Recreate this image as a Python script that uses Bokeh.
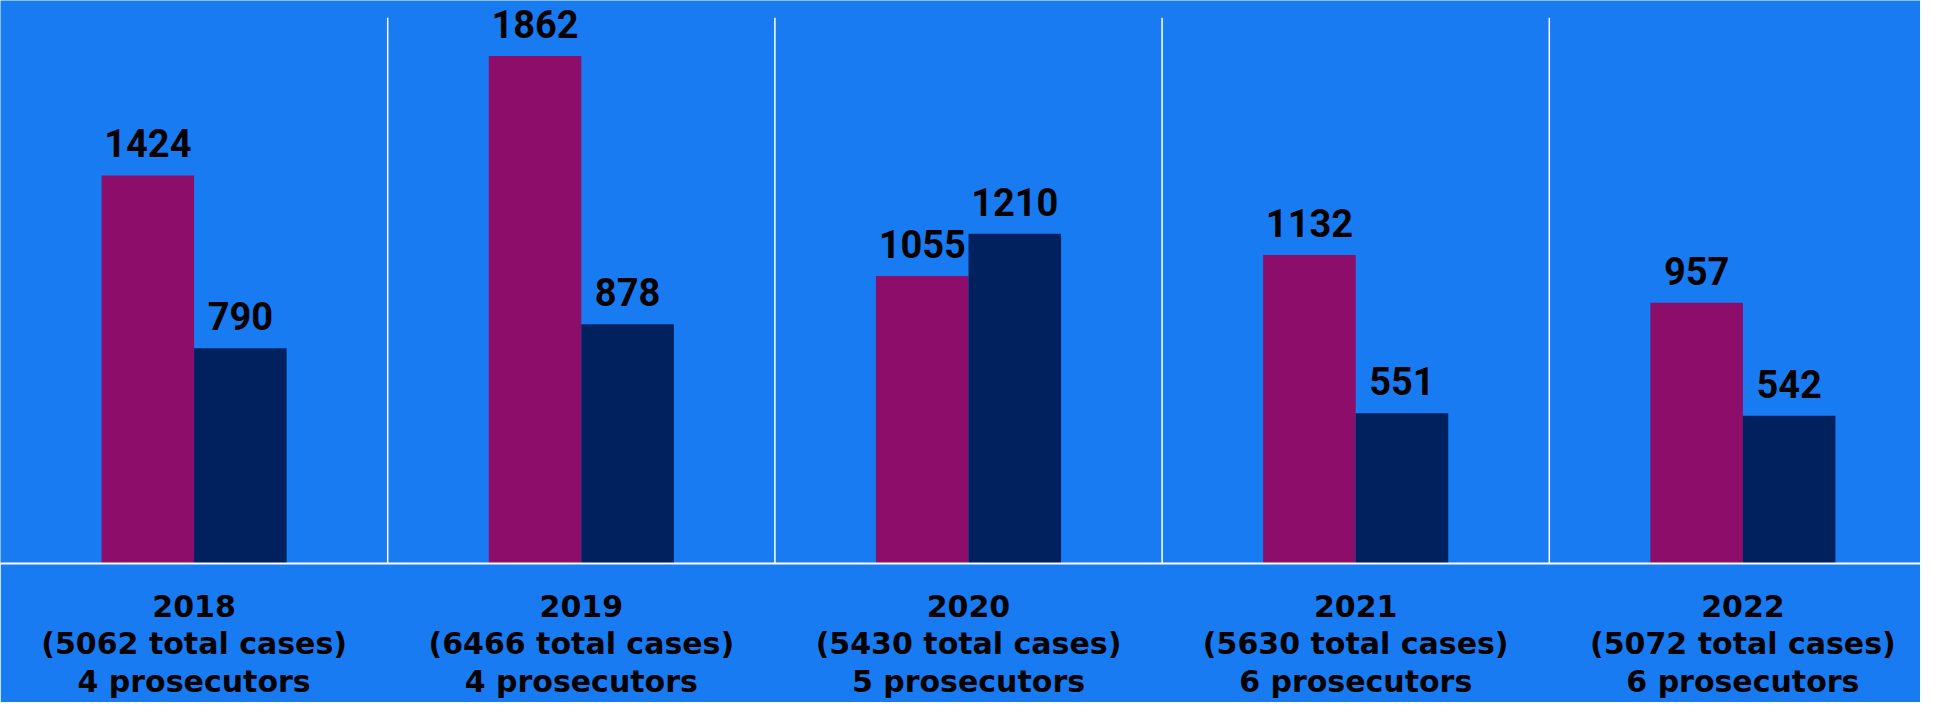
from bokeh.plotting import figure
from bokeh.models import Range1d, FixedTicker, ColumnDataSource
from bokeh.core.properties import value
from bokeh.transform import dodge
from bokeh.embed import file_html
from bokeh.resources import INLINE

years = ["2018", "2019", "2020", "2021", "2022"]
total_cases = [5062, 6466, 5430, 5630, 5072]
prosecutors = [4, 4, 5, 6, 6]
series_a = [1424, 1862, 1055, 1132, 957]
series_b = [790, 878, 1210, 551, 542]

BG = "#187BF2"
MAGENTA = "#8C0E6A"
NAVY = "#00205E"

idx = list(range(len(years)))
cat_px = 387.2
W, H = 1920, 702
x0 = -0.5
x1 = x0 + W / cat_px

p = figure(width=W, height=H, output_backend="svg", toolbar_location=None,
           x_range=Range1d(x0, x1), y_range=Range1d(0, 2066),
           y_axis_location=None, min_border=0, min_border_left=0,
           min_border_right=0, min_border_top=0, min_border_bottom=137)
p.background_fill_color = BG
p.border_fill_color = BG
p.outline_line_color = None
p.xgrid.visible = False
p.ygrid.visible = False

bw = 0.239
src = ColumnDataSource(dict(x=idx, a=series_a, b=series_b,
                            la=[str(v) for v in series_a],
                            lb=[str(v) for v in series_b]))

# separators between categories
sep_x = [i + 0.5 for i in idx[:-1]]
p.segment(x0=sep_x, x1=sep_x, y0=[0] * len(sep_x), y1=[2003] * len(sep_x),
          line_color="white", line_width=1.5)

p.vbar(x=dodge("x", -bw / 2), top="a", width=bw, source=src,
       fill_color=MAGENTA, line_color=None)
p.vbar(x=dodge("x", bw / 2), top="b", width=bw, source=src,
       fill_color=NAVY, line_color=None)

for col, off in (("a", -bw / 2), ("b", bw / 2)):
    p.text(x=dodge("x", off), y=col, text="l" + col, source=src,
           text_align="center", text_baseline="alphabetic", y_offset=-32,
           text_font=value("Roboto"), text_font_style="bold",
           text_font_size="38px", text_color="black")

ax = p.xaxis[0]
ax.ticker = FixedTicker(ticks=idx)
ax.major_label_overrides = {
    i: f"{y}\n({t} total cases)\n{n} prosecutors"
    for i, y, t, n in zip(idx, years, total_cases, prosecutors)
}
ax.major_tick_out = 0
ax.major_tick_in = 0
ax.minor_tick_out = 0
ax.minor_tick_in = 0
ax.axis_line_color = "white"
ax.axis_line_width = 2
ax.major_label_standoff = 25
ax.major_label_text_font = "DejaVu Sans"
ax.major_label_text_font_style = "bold"
ax.major_label_text_font_size = "30px"
ax.major_label_text_color = "black"
ax.major_label_text_line_height = 1.08

open("out.html", "w").write(file_html(p, INLINE))
